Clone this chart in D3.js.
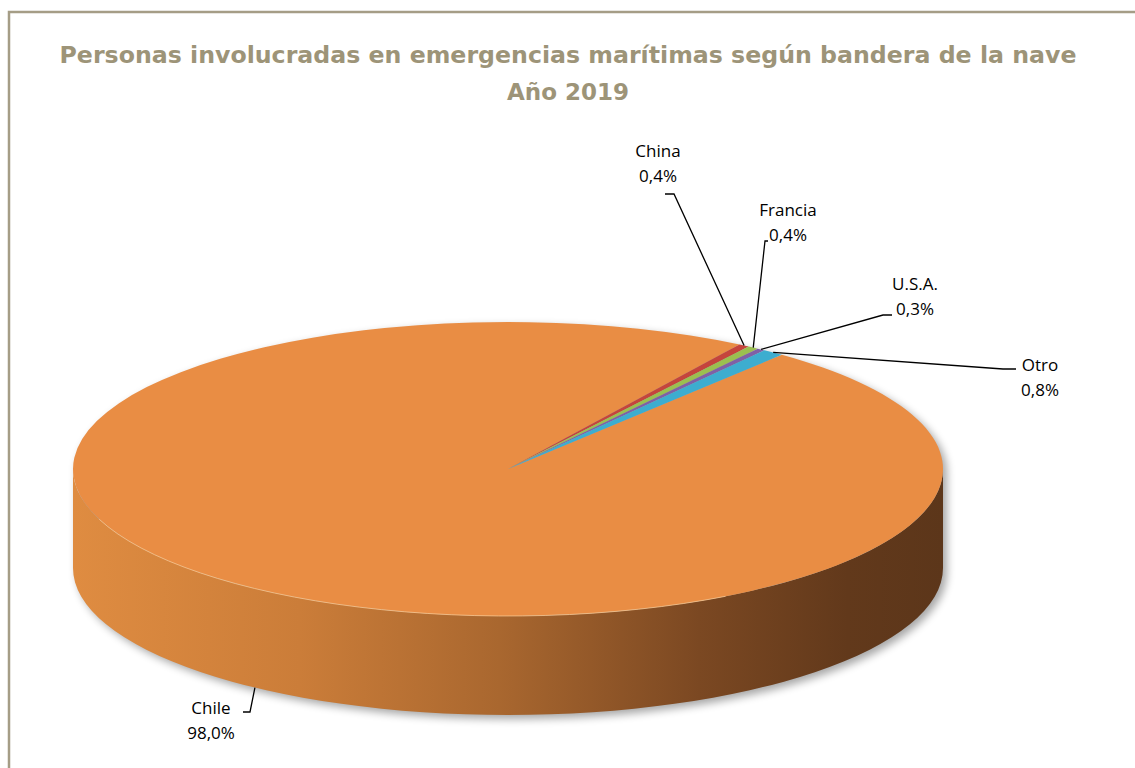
<!DOCTYPE html>
<html>
<head>
<meta charset="utf-8">
<script src="https://cdn.jsdelivr.net/npm/d3@7"></script>
<style>
  body { margin: 0; background: #fff; }
  svg { display: block; }
</style>
</head>
<body>
<script>
// data
var flags = ["Chile", "China", "Francia", "U.S.A.", "Otro"];
var shares = [98.0, 0.4, 0.4, 0.3, 0.8];
var shareText = ["98,0%", "0,4%", "0,4%", "0,3%", "0,8%"];
var titleLines = ["Personas involucradas en emergencias marítimas según bandera de la nave", "Año 2019"];

var width = 1135, height = 768;
var cx = 508, cy = 469, rx = 435, ry = 147, depth = 99;
var startDeg = 39;

var color = d3.scaleOrdinal()
    .domain(flags)
    .range(["#e98d44", "#c5443c", "#9bbf50", "#7f60a6", "#3dadcf"]);

// label anchors (centre x, first baseline) and leader elbows
var labelLayout = {
  "Chile":   { x: 211, y: 714, bottom: true, elbow: [[250, 712], [243, 712]] },
  "China":   { x: 658, y: 157, elbow: [[674, 194], [665, 194]] },
  "Francia": { x: 788, y: 216, elbow: [[765, 241], [768, 241]] },
  "U.S.A.":  { x: 915, y: 290, elbow: [[883, 315], [892, 315]] },
  "Otro":    { x: 1040, y: 371, elbow: [[1003, 369], [1016, 369]] }
};

var svg = d3.select("body").append("svg")
    .attr("width", width)
    .attr("height", height);

var defs = svg.append("defs");

var grad = defs.append("linearGradient")
    .attr("id", "wall")
    .attr("gradientUnits", "userSpaceOnUse")
    .attr("x1", cx - rx).attr("x2", cx + rx)
    .attr("y1", 0).attr("y2", 0);
[[0, "#df8c41"], [0.26, "#cb7d39"], [0.49, "#a9672f"], [0.72, "#7b4822"], [0.89, "#62391b"], [1, "#5c361a"]]
  .forEach(function(s) {
    grad.append("stop").attr("offset", s[0]).attr("stop-color", s[1]);
  });

defs.append("filter")
    .attr("id", "blur")
    .attr("x", "-10%").attr("y", "-10%").attr("width", "120%").attr("height", "130%")
  .append("feGaussianBlur")
    .attr("stdDeviation", 4);

// frame
svg.append("rect")
    .attr("x", 9).attr("y", 12)
    .attr("width", width).attr("height", height)
    .attr("fill", "none")
    .attr("stroke", "#a59d86")
    .attr("stroke-width", 2.5);

// title
svg.selectAll("text.title")
  .data(titleLines)
  .enter().append("text")
    .attr("class", "title")
    .attr("x", 568)
    .attr("y", function(d, i) { return 63 + i * 37; })
    .attr("text-anchor", "middle")
    .attr("font-family", "'DejaVu Sans', sans-serif")
    .attr("font-weight", "bold")
    .attr("font-size", 23)
    .attr("fill", "#9d9478")
    .attr("textLength", function(d, i) { return i == 0 ? 1017 : null; })
    .attr("lengthAdjust", "spacingAndGlyphs")
    .text(function(d) { return d; });

function rad(d) { return d * Math.PI / 180; }

function pt(a, dy) {
  return [cx + rx * Math.sin(a), cy - ry * Math.cos(a) + (dy || 0)];
}

var pie = d3.pie()
    .sort(null)
    .value(function(d) { return d; })
    .startAngle(rad(startDeg))
    .endAngle(rad(startDeg + 360));

var arcs = pie(shares);
arcs.forEach(function(a, i) { a.name = flags[i]; a.text = shareText[i]; });

function topPath(a0, a1) {
  var p0 = pt(a0), p1 = pt(a1);
  var large = (a1 - a0) > Math.PI ? 1 : 0;
  return "M" + cx + "," + cy + "L" + p0 + "A" + rx + "," + ry + " 0 " + large + " 1 " + p1 + "Z";
}

function wallPath(a0, a1) {
  var p0 = pt(a0), p1 = pt(a1), q1 = pt(a1, depth), q0 = pt(a0, depth);
  var large = (a1 - a0) > Math.PI ? 1 : 0;
  return "M" + p0 + "A" + rx + "," + ry + " 0 " + large + " 1 " + p1 +
         "L" + q1 + "A" + rx + "," + ry + " 0 " + large + " 0 " + q0 + "Z";
}

// front (visible) part of each slice's wall
function visibleWall(d) {
  var out = [];
  for (var k = -1; k <= 1; k++) {
    var lo = Math.max(d.startAngle, rad(90) + k * 2 * Math.PI);
    var hi = Math.min(d.endAngle, rad(270) + k * 2 * Math.PI);
    if (hi > lo) out.push([lo, hi]);
  }
  return out;
}

// shadow under the disc
svg.append("path")
    .attr("d", wallPath(rad(90), rad(270)) + topPath(rad(0), rad(359.9)))
    .attr("transform", "translate(4,4)")
    .attr("fill", "#000")
    .attr("opacity", 0.35)
    .attr("filter", "url(#blur)");

var walls = [];
arcs.forEach(function(d) {
  visibleWall(d).forEach(function(r) { walls.push({ d: d, r: r }); });
});

svg.append("g").selectAll("path")
  .data(walls)
  .enter().append("path")
    .attr("d", function(w) { return wallPath(w.r[0], w.r[1]); })
    .attr("fill", function(w) { return w.d.name == "Chile" ? "url(#wall)" : d3.color(color(w.d.name)).darker(1); });

svg.append("g").selectAll("path")
  .data(arcs)
  .enter().append("path")
    .attr("d", function(d) { return topPath(d.startAngle, d.endAngle); })
    .attr("fill", function(d) { return color(d.name); });

// light rim on the front edge
svg.append("path")
    .attr("d", "M" + pt(rad(250)) + "A" + rx + "," + ry + " 0 0 0 " + pt(rad(150)))
    .attr("fill", "none")
    .attr("stroke", "#f7c48d")
    .attr("stroke-width", 1)
    .attr("opacity", 0.8);

// leaders and labels
var lab = svg.append("g");
arcs.forEach(function(d) {
  var L = labelLayout[d.name];
  var mid = (d.startAngle + d.endAngle) / 2;
  var start = pt(mid, L.bottom ? depth : 0);
  var pts = [start].concat(L.elbow);
  lab.append("path")
      .attr("d", d3.line()(pts))
      .attr("fill", "none")
      .attr("stroke", "#000")
      .attr("stroke-width", 1.3);
  var t = lab.append("text")
      .attr("x", L.x).attr("y", L.y)
      .attr("text-anchor", "middle")
      .attr("font-family", "'Open Sans', sans-serif")
      .attr("font-size", 17)
      .attr("fill", "#000");
  t.append("tspan").attr("x", L.x).attr("dy", 0).text(d.name);
  t.append("tspan").attr("x", L.x).attr("dy", 25).text(d.text);
});
</script>
</body>
</html>
